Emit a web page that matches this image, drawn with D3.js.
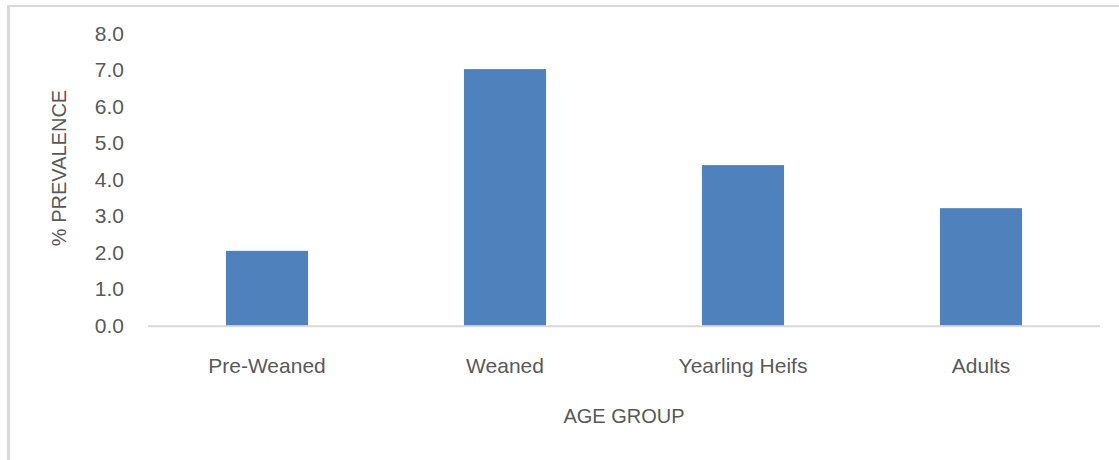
<!DOCTYPE html>
<html>
<head>
<meta charset="utf-8">
<script src="https://cdn.jsdelivr.net/npm/d3@7"></script>
<style>
  html, body { margin: 0; padding: 0; background: #fff; }
  svg { display: block; }
  text { font-family: "Liberation Sans", Arial, sans-serif; fill: #595959; }
</style>
</head>
<body>
<script>
const categories = ["Pre-Weaned", "Weaned", "Yearling Heifs", "Adults"];
const prevalence = [2.05, 7.03, 4.40, 3.22];
const yTicks = [0, 1, 2, 3, 4, 5, 6, 7, 8];
const xTitle = "AGE GROUP";
const yTitle = "% PREVALENCE";

const W = 1119, H = 460;
const svg = d3.select("body").append("svg").attr("width", W).attr("height", H);

// chart border (top and left visible)
svg.append("line").attr("x1", 8.5).attr("x2", W).attr("y1", 6).attr("y2", 6)
  .attr("stroke", "#d9d9d9").attr("stroke-width", 2);
svg.append("line").attr("x1", 8.5).attr("x2", 8.5).attr("y1", 5).attr("y2", H)
  .attr("stroke", "#d9d9d9").attr("stroke-width", 3);

const plot = { left: 148, right: 1100, top: 33.7, bottom: 325.7 };

const x = d3.scaleBand().domain(categories)
  .range([plot.left, plot.right]).paddingInner(0.655).paddingOuter(0.3275);
const y = d3.scaleLinear().domain([0, 8]).range([plot.bottom, plot.top]);

// bars
svg.append("g").selectAll("rect").data(categories).join("rect")
  .attr("x", d => x(d))
  .attr("width", x.bandwidth())
  .attr("y", (d, i) => y(prevalence[i]))
  .attr("height", (d, i) => y(0) - y(prevalence[i]))
  .attr("fill", "#4f81bd");

// x axis line
svg.append("line").attr("x1", plot.left).attr("x2", plot.right)
  .attr("y1", y(0) + 0.5).attr("y2", y(0) + 0.5)
  .attr("stroke", "#d9d9d9").attr("stroke-width", 2);

// y axis labels (no line)
const yAxis = d3.axisLeft(y).tickValues(yTicks).tickFormat(d3.format(".1f")).tickSize(0).tickPadding(0);
const gy = svg.append("g").attr("transform", "translate(124,0)").call(yAxis);
gy.select(".domain").remove();
gy.selectAll("text").style("font-size", "21px").attr("fill", "#595959")
  .style("font-family", "'Liberation Sans', Arial, sans-serif");

// x axis labels
const xAxis = d3.axisBottom(x).tickSize(0).tickPadding(0);
const gx = svg.append("g").attr("transform", "translate(0,358)").call(xAxis);
gx.select(".domain").remove();
gx.selectAll("text").style("font-size", "21px").attr("fill", "#595959")
  .style("font-family", "'Liberation Sans', Arial, sans-serif");

// titles
svg.append("text").attr("x", (plot.left + plot.right) / 2).attr("y", 423)
  .attr("text-anchor", "middle").style("font-size", "20px").text(xTitle);
svg.append("text")
  .attr("transform", "translate(66,168) rotate(-90)")
  .attr("text-anchor", "middle").style("font-size", "20px").text(yTitle);
</script>
</body>
</html>
